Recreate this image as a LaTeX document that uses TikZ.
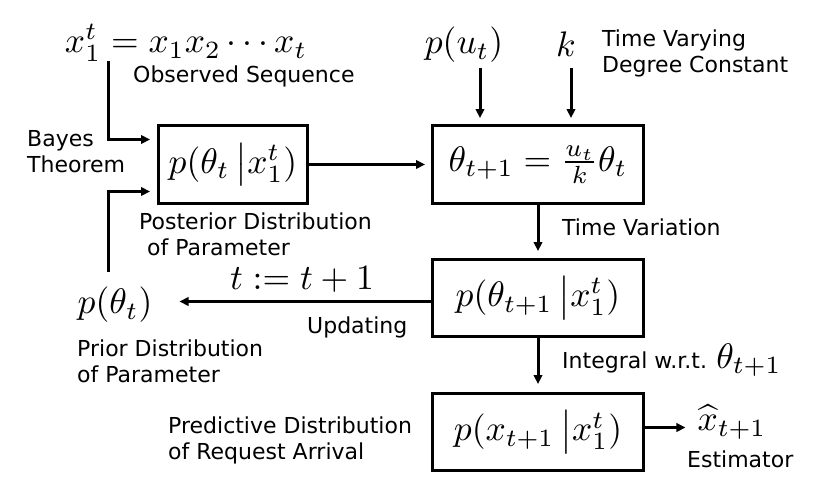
\documentclass[tikz,border=0pt]{standalone}
\usepackage{fontspec}
\setmainfont{DejaVu Sans}
\usepackage{graphicx}
\usetikzlibrary{arrows.meta}
\tikzset{
  arr/.style={line width=3pt,-{Triangle[length=9pt,width=8.5pt]}},
  box/.style={draw,line width=3pt,inner sep=0pt,anchor=north west},
  lbl/.style={inner sep=0pt,anchor=base west,align=left,font=\fontsize{22}{26}\selectfont},
  mth/.style={inner sep=0pt},
}
\newcommand{\bigmath}[1]{\scalebox{3.55}{\fontsize{10}{12}\selectfont$#1$}}
\begin{document}
\begin{tikzpicture}[x=1pt,y=-1pt]
\useasboundingbox (0,0) rectangle (830,501);
% boxes
\node[box,minimum width=149pt,minimum height=78pt] (post) at (157,124) {\bigmath{p(\theta_t\,\big|x_1^t)}};
\node[box,minimum width=211pt,minimum height=78pt] (upd) at (431,124) {\bigmath{\theta_{t+1}=\frac{u_t}{k}\theta_t}};
\node[box,minimum width=211pt,minimum height=77pt] (pred) at (431,258) {\bigmath{p(\theta_{t+1}\,\big|x_1^t)}};
\node[box,minimum width=211pt,minimum height=77pt] (est) at (431,392) {\bigmath{p(x_{t+1}\,\big|x_1^t)}};
% math labels
\node[mth] (obs) at (186,43) {\bigmath{x_1^t=x_1x_2\cdots x_t}};
\node[mth] (pu) at (464,45) {\bigmath{p(u_t)}};
\node[mth] (k) at (566,44) {\bigmath{k}};
\node[mth] (prior) at (115,305) {\bigmath{p(\theta_t)}};
\node[mth] (tt) at (302,280) {\bigmath{t:=t+1}};
\node[mth] (xhat) at (732,422) {\bigmath{\widehat{x}_{t+1}}};
% text labels
\node[lbl] (l1) at (133,82) {Observed Sequence};
\node[lbl] (l2) at (27,172) {Bayes\\Theorem};
\node[lbl] (l3) at (139,255) {Posterior Distribution\\\hspace*{8pt}of Parameter};
\node[lbl] (l4) at (602,72) {Time Varying\\Degree Constant};
\node[lbl] (l5) at (562,235) {Time Variation};
\node[lbl] (l6) at (307,333) {Updating};
\node[lbl] (l7) at (77,382) {Prior Distribution\\of Parameter};
\node[lbl] (l8) at (168,459) {Predictive Distribution\\of Request Arrival};
\node[lbl] (l9) at (562,368) {Integral w.r.t. \bigmath{\theta_{t+1}}};
\node[lbl] (l10) at (687,467) {Estimator};
% connectors
\coordinate (bs) at (108,61);
\coordinate (ps) at (108,272);
\draw[arr,shorten >=7pt] (bs) |- ([yshift=25pt]post.west);
\draw[arr,shorten >=7pt] (ps) |- ([yshift=-27pt]post.west);
\draw[arr,shorten >=6pt] (post.east) -- (upd.west);
\coordinate (pus) at (480,68);
\coordinate (ks) at (571,68);
\draw[arr,shorten >=6pt] (pus) -- (pus |- upd.north);
\draw[arr,shorten >=6pt] (ks) -- (ks |- upd.north);
\draw[arr,shorten >=7pt] (upd.south) -- (pred.north);
\draw[arr,shorten >=8pt] (pred.south) -- (est.north);
\draw[arr,shorten >=27pt] ([yshift=-3.5pt]pred.west) -- ([yshift=-3.5pt]pred.west -| prior.east);
\draw[arr,shorten >=12pt] ([yshift=4.5pt]est.east) -- ([yshift=4.5pt]est.east -| xhat.west);
\end{tikzpicture}
\end{document}
